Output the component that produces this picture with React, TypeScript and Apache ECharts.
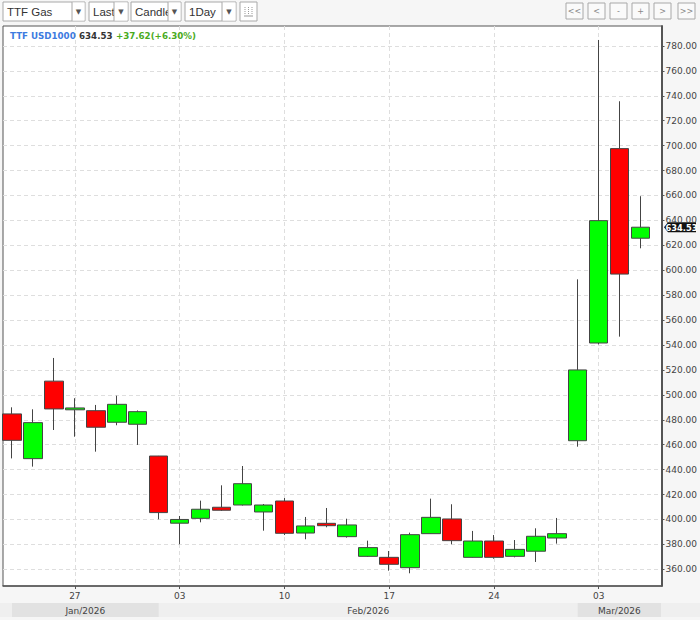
import React, { useEffect, useRef } from 'react';
import * as echarts from 'echarts';

const instrument = 'TTF USD1000';
const dates = [
  '2026-01-22', '2026-01-23', '2026-01-26', '2026-01-27', '2026-01-28', '2026-01-29', '2026-01-30',
  '2026-02-02', '2026-02-03', '2026-02-04', '2026-02-05', '2026-02-06',
  '2026-02-09', '2026-02-10', '2026-02-11', '2026-02-12', '2026-02-13',
  '2026-02-16', '2026-02-17', '2026-02-18', '2026-02-19', '2026-02-20',
  '2026-02-23', '2026-02-24', '2026-02-25', '2026-02-26', '2026-02-27',
  '2026-03-02', '2026-03-03', '2026-03-04', '2026-03-05',
];
const opens = [
  484.7, 448.8, 511.0, 488.0, 487.3, 478.0, 476.4,
  450.9, 397.0, 400.9, 409.8, 411.6,
  406.0, 414.8, 389.1, 396.9, 386.2,
  370.4, 369.6, 361.3, 388.6, 400.4,
  369.6, 382.7, 370.4, 374.5, 385.1,
  463.2, 541.6, 697.6, 625.7,
];
const closes = [
  463.5, 477.7, 488.7, 489.5, 474.0, 492.4, 486.5,
  405.5, 400.0, 408.2, 407.4, 428.7,
  411.6, 388.9, 394.8, 395.0, 395.6,
  377.4, 364.0, 387.8, 401.7, 383.0,
  382.7, 369.6, 376.0, 386.5, 388.6,
  520.0, 639.8, 596.91, 634.53,
];
const lows = [
  449.0, 442.4, 471.8, 466.4, 454.4, 475.6, 459.8,
  400.1, 380.1, 397.7, 406.8, 411.2,
  391.0, 387.5, 384.1, 393.7, 385.4,
  370.0, 358.9, 356.8, 388.4, 380.1,
  369.4, 368.5, 369.6, 365.9, 380.6,
  458.4, 540.5, 546.7, 617.6,
];
const highs = [
  490.0, 488.4, 529.6, 497.3, 491.9, 499.3, 487.5,
  451.0, 402.8, 415.1, 427.4, 442.9,
  412.4, 417.2, 402.0, 409.2, 400.6,
  383.0, 374.7, 389.4, 416.7, 412.2,
  390.8, 387.5, 383.5, 392.9, 401.2,
  592.7, 784.8, 735.6, 659.4,
];
const xTickDates = ['2026-01-27', '2026-02-03', '2026-02-10', '2026-02-17', '2026-02-24', '2026-03-03'];
const yTicks = [360, 380, 400, 420, 440, 460, 480, 500, 520, 540, 560, 580, 600, 620, 640, 660, 680, 700, 720, 740, 760, 780];
const monthNames = ['Jan', 'Feb', 'Mar', 'Apr', 'May', 'Jun', 'Jul', 'Aug', 'Sep', 'Oct', 'Nov', 'Dec'];
const dropdowns = ['TTF Gas', 'Last', 'Candle', '1Day'];
const navButtons = ['<<', '<', '-', '+', '>', '>>'];

const FONT = '"DejaVu Sans", Verdana, sans-serif';

export default function App() {
  const ref = useRef<HTMLDivElement>(null);

  useEffect(() => {
    const chart = echarts.init(ref.current!, null, { renderer: 'svg' });
    const candleData = dates.map((d, i) => [i, opens[i], closes[i], lows[i], highs[i]]);
    const tickIdx = xTickDates.map((d) => dates.indexOf(d));

    const GRID = { left: 3, top: 26, width: 660, height: 560 };

    chart.setOption({
      animation: false,
      backgroundColor: '#f6f6f6',
      grid: {
        ...GRID,
        show: true,
        backgroundColor: '#ffffff',
        borderColor: '#555',
        borderWidth: 1,
      },
      xAxis: {
        type: 'value',
        min: -0.43,
        max: dates.length,
        axisLine: { show: true, onZero: false, lineStyle: { color: '#555', width: 1.5 } },
        axisTick: { show: true, length: 3, customValues: tickIdx, lineStyle: { color: '#555' } },
        axisLabel: {
          customValues: tickIdx,
          margin: 5,
          color: '#444',
          fontFamily: FONT,
          fontSize: 9,
          formatter: (v: number) => {
            const d = dates[Math.round(v)];
            return d ? d.slice(8, 10) : '';
          },
        },
        splitLine: { show: true, lineStyle: { color: '#dedede', type: [4, 3] } },
      },
      yAxis: {
        type: 'value',
        position: 'right',
        min: 346.6,
        max: 796,
        axisLine: { show: true, onZero: false, lineStyle: { color: '#555', width: 2 } },
        axisTick: { show: true, length: 3, customValues: yTicks, lineStyle: { color: '#555' } },
        axisLabel: {
          customValues: yTicks,
          margin: 4,
          color: '#444',
          fontFamily: FONT,
          fontSize: 9,
          formatter: (v: number) => v.toFixed(2),
        },
        splitLine: { show: true, lineStyle: { color: '#dedede', type: [4, 3] } },
      },
      series: [
        {
          type: 'candlestick',
          data: candleData,
          encode: { x: 0, y: [1, 2, 3, 4] },
          barWidth: 19,
          itemStyle: {
            color: '#00ff00',
            color0: '#ff0000',
            borderColor: '#444',
            borderColor0: '#444',
            borderWidth: 1,
          },
        },
      ],
    });

    const px = (i: number, v: number) => chart.convertToPixel({ gridIndex: 0 }, [i, v]) as number[];

    const last = closes[closes.length - 1];
    const prev = closes[closes.length - 2];
    const chg = last - prev;
    const pct = (chg / prev) * 100;
    const sign = chg >= 0 ? '+' : '';

    const graphics: any[] = [];

    // toolbar dropdowns
    const ddX = [3, 89, 131, 185];
    const ddW = [82, 39, 50, 51];
    const ddDiv = [69, 25, 37, 37];
    dropdowns.forEach((label, k) => {
      const x = ddX[k];
      graphics.push({
        type: 'group',
        children: [
          { type: 'rect', shape: { x, y: 2, width: ddW[k], height: 19 }, style: { fill: '#fff', stroke: '#a8a8a8', lineWidth: 1 } },
          { type: 'text', style: { text: label, x: x + 4, y: 11.5, fill: '#333', fontFamily: '"Liberation Sans", Arial, sans-serif', fontSize: 11.5, verticalAlign: 'middle' } },
          { type: 'rect', shape: { x: x + ddDiv[k], y: 2.5, width: ddW[k] - ddDiv[k] - 0.5, height: 18 }, style: { fill: '#fff' } },
          { type: 'line', shape: { x1: x + ddDiv[k], y1: 2, x2: x + ddDiv[k], y2: 21 }, style: { stroke: '#a8a8a8', lineWidth: 1 } },
          { type: 'text', style: { text: '▼', x: x + ddDiv[k] + (ddW[k] - ddDiv[k]) / 2, y: 12, fill: '#555', fontFamily: FONT, fontSize: 7, align: 'center', verticalAlign: 'middle' } },
        ],
      });
    });
    // icon button
    graphics.push({
      type: 'group',
      children: [
        { type: 'rect', shape: { x: 240, y: 2, width: 17, height: 19 }, style: { fill: '#fff', stroke: '#a8a8a8', lineWidth: 1 } },
        { type: 'line', shape: { x1: 244, y1: 16, x2: 253, y2: 16 }, style: { stroke: '#999', lineWidth: 1 } },
        { type: 'line', shape: { x1: 245, y1: 7, x2: 245, y2: 15 }, style: { stroke: '#999', lineWidth: 1, lineDash: [1, 1] } },
        { type: 'line', shape: { x1: 248.5, y1: 7, x2: 248.5, y2: 15 }, style: { stroke: '#999', lineWidth: 1, lineDash: [1, 1] } },
        { type: 'line', shape: { x1: 252, y1: 7, x2: 252, y2: 15 }, style: { stroke: '#999', lineWidth: 1, lineDash: [1, 1] } },
      ],
    });
    // nav buttons
    const navX = [566, 588, 610, 632, 654, 678];
    navButtons.forEach((label, k) => {
      graphics.push({
        type: 'group',
        children: [
          { type: 'rect', shape: { x: navX[k], y: 3, width: 17, height: 16 }, style: { fill: '#fafafa', stroke: '#a8a8a8', lineWidth: 1 } },
          { type: 'text', style: { text: label, x: navX[k] + 8.5, y: 11, fill: '#888', fontFamily: FONT, fontSize: 8, align: 'center', verticalAlign: 'middle' } },
        ],
      });
    });

    // legend / quote line
    graphics.push({
      type: 'text',
      style: {
        text: `{a|${instrument}} {b|${last.toFixed(2)}} {c|${sign}${chg.toFixed(2)}(${sign}${pct.toFixed(2)}%)}`,
        x: 10,
        y: 36,
        verticalAlign: 'middle',
        rich: {
          a: { fill: '#3d7be0', fontFamily: FONT, fontSize: 8.7, fontWeight: 'bold' },
          b: { fill: '#333', fontFamily: FONT, fontSize: 8.7, fontWeight: 'bold' },
          c: { fill: '#4aab1e', fontFamily: FONT, fontSize: 8.7, fontWeight: 'bold' },
        },
      },
    });

    // month strip
    const gridRight = GRID.left + GRID.width;
    graphics.push({ type: 'rect', shape: { x: 0, y: 603, width: 700, height: 14 }, style: { fill: '#efefef' } });
    const monthStarts: number[] = [];
    dates.forEach((d, i) => {
      if (i === 0 || d.slice(0, 7) !== dates[i - 1].slice(0, 7)) monthStarts.push(i);
    });
    monthStarts.forEach((si, k) => {
      const x0 = px(si, 400)[0];
      const x1 = k + 1 < monthStarts.length ? px(monthStarts[k + 1], 400)[0] : gridRight - 2;
      const d = dates[si];
      const label = `${monthNames[parseInt(d.slice(5, 7), 10) - 1]}/${d.slice(0, 4)}`;
      if (k % 2 === 0) {
        graphics.push({ type: 'rect', shape: { x: x0, y: 603, width: x1 - x0, height: 14 }, style: { fill: '#e2e2e2' } });
      }
      graphics.push({
        type: 'text',
        style: { text: label, x: (x0 + x1) / 2, y: 610.5, fill: '#444', fontFamily: FONT, fontSize: 9, align: 'center', verticalAlign: 'middle' },
      });
    });

    // last price tag
    const ty = px(0, last)[1];
    graphics.push({
      type: 'group',
      x: gridRight,
      y: ty,
      children: [
        { type: 'polygon', shape: { points: [[1, 0], [5, -5], [33, -5], [33, 5], [5, 5]] }, style: { fill: '#111' } },
        { type: 'text', style: { text: last.toFixed(2), x: 18.5, y: 0.5, fill: '#fff', fontFamily: FONT, fontSize: 8.3, fontWeight: 'bold', align: 'center', verticalAlign: 'middle' } },
      ],
    });

    chart.setOption({ graphic: graphics });

    return () => chart.dispose();
  }, []);

  return (
    <div style={{ position: 'absolute', left: 0, top: 0, width: 700, height: 620, background: '#f6f6f6' }}>
      <div ref={ref} style={{ width: 700, height: 620 }} />
    </div>
  );
}
